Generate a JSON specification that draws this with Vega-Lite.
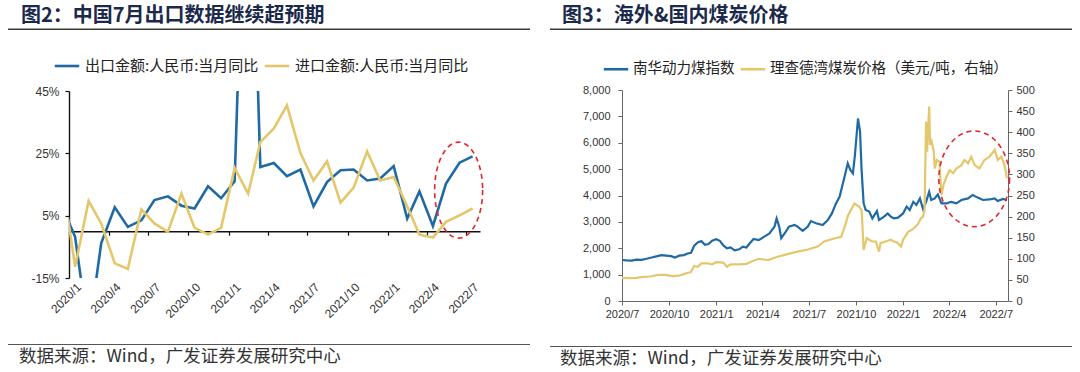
{
  "$schema": "https://vega.github.io/schema/vega-lite/v6.json",
  "background": "white",
  "padding": {"left": 8, "top": 0, "right": 0, "bottom": 0},
  "config": {
    "view": {"stroke": null},
    "font": "Liberation Sans",
    "axis": {"labelFont": "Liberation Sans", "grid": false, "title": null}
  },
  "spacing": 20,
  "resolve": {"scale": {"color": "independent"}, "legend": {"color": "independent"}},
  "hconcat": [
    {
      "spacing": 24,
      "resolve": {"scale": {"color": "independent"}, "legend": {"color": "independent"}},
      "vconcat": [
        {
          "spacing": 22,
          "resolve": {"scale": {"color": "independent"}, "legend": {"color": "independent"}},
          "vconcat": [
            {
              "width": 461, "height": 30,
              "data": {"values": [{"t": "图2：中国7月出口数据继续超预期"}]},
              "layer": [
                {
                  "mark": {"type": "rect", "color": "#3a3a3a", "clip": false},
                  "encoding": {
                    "x": {"datum": 0, "type": "quantitative", "scale": {"domain": [0, 1], "range": [-61, 461], "nice": false, "zero": false}, "axis": null},
                    "x2": {"datum": 1},
                    "y": {"datum": 0, "type": "quantitative", "scale": {"domain": [0, 1], "nice": false, "zero": false}, "axis": null},
                    "y2": {"datum": 0.05}
                  }
                },
                {
                  "mark": {"type": "text", "align": "left", "baseline": "middle", "dx": 13, "dy": 1, "fontSize": 20, "fontWeight": "bold", "font": "Noto Sans CJK SC", "color": "#1b2a4a"},
                  "encoding": {
                    "text": {"field": "t"},
                    "x": {"datum": 0, "type": "quantitative"},
                    "y": {"datum": 0.5, "type": "quantitative"}
                  }
                }
              ]
            },
            {
              "width": 411, "height": 187,
              "layer": [
                {
                  "data": {"values": [
                    {"d": "2019-12-15", "s": "出口金额:人民币:当月同比", "v": 8.4},
                    {"d": "2020-01-15", "s": "出口金额:人民币:当月同比", "v": -1.8},
                    {"d": "2020-02-15", "s": "出口金额:人民币:当月同比", "v": -33},
                    {"d": "2020-03-15", "s": "出口金额:人民币:当月同比", "v": -3.8},
                    {"d": "2020-04-15", "s": "出口金额:人民币:当月同比", "v": 7.7},
                    {"d": "2020-05-15", "s": "出口金额:人民币:当月同比", "v": 1.4},
                    {"d": "2020-06-15", "s": "出口金额:人民币:当月同比", "v": 3.5},
                    {"d": "2020-07-15", "s": "出口金额:人民币:当月同比", "v": 10.0},
                    {"d": "2020-08-15", "s": "出口金额:人民币:当月同比", "v": 11.2},
                    {"d": "2020-09-15", "s": "出口金额:人民币:当月同比", "v": 8.2},
                    {"d": "2020-10-15", "s": "出口金额:人民币:当月同比", "v": 7.3},
                    {"d": "2020-11-15", "s": "出口金额:人民币:当月同比", "v": 14.4},
                    {"d": "2020-12-15", "s": "出口金额:人民币:当月同比", "v": 10.6},
                    {"d": "2021-01-15", "s": "出口金额:人民币:当月同比", "v": 16.0},
                    {"d": "2021-02-15", "s": "出口金额:人民币:当月同比", "v": 150},
                    {"d": "2021-03-15", "s": "出口金额:人民币:当月同比", "v": 20.6},
                    {"d": "2021-04-15", "s": "出口金额:人民币:当月同比", "v": 21.9},
                    {"d": "2021-05-15", "s": "出口金额:人民币:当月同比", "v": 17.7},
                    {"d": "2021-06-15", "s": "出口金额:人民币:当月同比", "v": 19.8},
                    {"d": "2021-07-15", "s": "出口金额:人民币:当月同比", "v": 8.0},
                    {"d": "2021-08-15", "s": "出口金额:人民币:当月同比", "v": 15.8},
                    {"d": "2021-09-15", "s": "出口金额:人民币:当月同比", "v": 19.6},
                    {"d": "2021-10-15", "s": "出口金额:人民币:当月同比", "v": 19.8},
                    {"d": "2021-11-15", "s": "出口金额:人民币:当月同比", "v": 16.3},
                    {"d": "2021-12-15", "s": "出口金额:人民币:当月同比", "v": 16.9},
                    {"d": "2022-01-15", "s": "出口金额:人民币:当月同比", "v": 20.9},
                    {"d": "2022-02-15", "s": "出口金额:人民币:当月同比", "v": 4.1},
                    {"d": "2022-03-15", "s": "出口金额:人民币:当月同比", "v": 12.8},
                    {"d": "2022-04-15", "s": "出口金额:人民币:当月同比", "v": 1.7},
                    {"d": "2022-05-15", "s": "出口金额:人民币:当月同比", "v": 15.3},
                    {"d": "2022-06-15", "s": "出口金额:人民币:当月同比", "v": 22.0},
                    {"d": "2022-07-15", "s": "出口金额:人民币:当月同比", "v": 24.0},
                    {"d": "2019-12-15", "s": "进口金额:人民币:当月同比", "v": 18.2},
                    {"d": "2020-01-15", "s": "进口金额:人民币:当月同比", "v": -11.4},
                    {"d": "2020-02-15", "s": "进口金额:人民币:当月同比", "v": 9.7},
                    {"d": "2020-03-15", "s": "进口金额:人民币:当月同比", "v": 2.5},
                    {"d": "2020-04-15", "s": "进口金额:人民币:当月同比", "v": -10.3},
                    {"d": "2020-05-15", "s": "进口金额:人民币:当月同比", "v": -12.1},
                    {"d": "2020-06-15", "s": "进口金额:人民币:当月同比", "v": 7.0},
                    {"d": "2020-07-15", "s": "进口金额:人民币:当月同比", "v": 2.5},
                    {"d": "2020-08-15", "s": "进口金额:人民币:当月同比", "v": -0.2},
                    {"d": "2020-09-15", "s": "进口金额:人民币:当月同比", "v": 12.1},
                    {"d": "2020-10-15", "s": "进口金额:人民币:当月同比", "v": 1.1},
                    {"d": "2020-11-15", "s": "进口金额:人民币:当月同比", "v": -1.0},
                    {"d": "2020-12-15", "s": "进口金额:人民币:当月同比", "v": 1.1},
                    {"d": "2021-01-15", "s": "进口金额:人民币:当月同比", "v": 20.3},
                    {"d": "2021-02-15", "s": "进口金额:人民币:当月同比", "v": 12.1},
                    {"d": "2021-03-15", "s": "进口金额:人民币:当月同比", "v": 28.6},
                    {"d": "2021-04-15", "s": "进口金额:人民币:当月同比", "v": 33.0},
                    {"d": "2021-05-15", "s": "进口金额:人民币:当月同比", "v": 40.4},
                    {"d": "2021-06-15", "s": "进口金额:人民币:当月同比", "v": 25.1},
                    {"d": "2021-07-15", "s": "进口金额:人民币:当月同比", "v": 16.3},
                    {"d": "2021-08-15", "s": "进口金额:人民币:当月同比", "v": 22.4},
                    {"d": "2021-09-15", "s": "进口金额:人民币:当月同比", "v": 9.2},
                    {"d": "2021-10-15", "s": "进口金额:人民币:当月同比", "v": 14.0},
                    {"d": "2021-11-15", "s": "进口金额:人民币:当月同比", "v": 25.6},
                    {"d": "2021-12-15", "s": "进口金额:人民币:当月同比", "v": 16.3},
                    {"d": "2022-01-15", "s": "进口金额:人民币:当月同比", "v": 17.4},
                    {"d": "2022-02-15", "s": "进口金额:人民币:当月同比", "v": 8.0},
                    {"d": "2022-03-15", "s": "进口金额:人民币:当月同比", "v": -1.1},
                    {"d": "2022-04-15", "s": "进口金额:人民币:当月同比", "v": -2.0},
                    {"d": "2022-05-15", "s": "进口金额:人民币:当月同比", "v": 3.0},
                    {"d": "2022-06-15", "s": "进口金额:人民币:当月同比", "v": 5.1},
                    {"d": "2022-07-15", "s": "进口金额:人民币:当月同比", "v": 7.3}
                  ]},
                  "mark": {"type": "line", "clip": true, "strokeWidth": 2.6},
                  "encoding": {
                    "x": {
                      "field": "d", "type": "temporal",
                      "scale": {"type": "utc", "domain": [{"year": 2020, "month": 1, "date": 1, "utc": true}, {"year": 2022, "month": 8, "date": 1, "utc": true}]},
                      "axis": {
                        "orient": "bottom", "offset": -46.75,
                        "values": [
                          {"year": 2020, "month": 1, "date": 1, "utc": true}, {"year": 2020, "month": 4, "date": 1, "utc": true},
                          {"year": 2020, "month": 7, "date": 1, "utc": true}, {"year": 2020, "month": 10, "date": 1, "utc": true},
                          {"year": 2021, "month": 1, "date": 1, "utc": true}, {"year": 2021, "month": 4, "date": 1, "utc": true},
                          {"year": 2021, "month": 7, "date": 1, "utc": true}, {"year": 2021, "month": 10, "date": 1, "utc": true},
                          {"year": 2022, "month": 1, "date": 1, "utc": true}, {"year": 2022, "month": 4, "date": 1, "utc": true},
                          {"year": 2022, "month": 7, "date": 1, "utc": true}
                        ],
                        "labelExpr": "utcFormat(datum.value, '%Y/%-m')",
                        "labelAngle": -45, "labelAlign": "right", "labelBaseline": "top",
                        "labelPadding": 46, "labelOffset": 6, "labelFontSize": 12, "labelColor": "#333",
                        "labelOverlap": false, "labelFlush": false,
                        "domainColor": "#111", "domainWidth": 1.4, "tickColor": "#111", "tickSize": 4, "tickWidth": 1.2,
                        "title": null
                      }
                    },
                    "y": {
                      "field": "v", "type": "quantitative",
                      "scale": {"domain": [-15, 45], "nice": false, "zero": false},
                      "axis": {
                        "values": [-15, -5, 5, 15, 25, 35, 45],
                        "labelExpr": "datum.value + '%'",
                        "labelOverlap": false, "labelFlush": false,
                        "labelFontSize": 12, "labelColor": "#333", "labelPadding": 6,
                        "domainColor": "#111", "domainWidth": 1.4, "tickColor": "#111", "tickSize": 4, "tickWidth": 1.2,
                        "minExtent": 61, "title": null
                      }
                    },
                    "color": {
                      "field": "s", "type": "nominal",
                      "scale": {"domain": ["出口金额:人民币:当月同比", "进口金额:人民币:当月同比"], "range": ["#1f6aa5", "#e5c76b"]},
                      "legend": {
                        "orient": "none", "legendX": -16, "legendY": -39, "direction": "horizontal", "title": null,
                        "symbolType": "stroke", "symbolSize": 600, "symbolStrokeWidth": 2.6,
                        "labelFont": "Noto Sans CJK SC", "labelFontSize": 15, "labelColor": "#222",
                        "labelOffset": 4, "columnPadding": 0, "labelLimit": 400
                      }
                    }
                  }
                },
                {
                  "data": {"values": [{"d": "2022-06-13", "v": 13.2}]},
                  "mark": {"type": "point", "shape": "M 0.5 0 C 0.5 0.552 0.276 1 0 1 C -0.276 1 -0.5 0.552 -0.5 0 C -0.5 -0.552 -0.276 -1 0 -1 C 0.276 -1 0.5 -0.552 0.5 0 Z", "size": 9216, "filled": false, "color": "#e3242b", "strokeWidth": 1.6, "strokeDash": [5, 4], "opacity": 1},
                  "encoding": {
                    "x": {"field": "d", "type": "temporal", "scale": {"type": "utc"}},
                    "y": {"field": "v", "type": "quantitative"}
                  }
                }
              ]
            }
          ]
        },
        {
          "width": 461, "height": 26,
          "data": {"values": [{"t": "数据来源：Wind，广发证券发展研究中心"}]},
          "layer": [
            {
              "mark": {"type": "rect", "color": "#555", "clip": false},
              "encoding": {
                "x": {"datum": 0, "type": "quantitative", "scale": {"domain": [0, 1], "range": [-61, 461], "nice": false, "zero": false}, "axis": null},
                "x2": {"datum": 1},
                "y": {"datum": 1, "type": "quantitative", "scale": {"domain": [0, 1], "nice": false, "zero": false}, "axis": null},
                "y2": {"datum": 0.962}
              }
            },
            {
              "mark": {"type": "text", "align": "left", "baseline": "middle", "dx": 11, "fontSize": 17.5, "font": "Noto Sans CJK SC", "color": "#333"},
              "encoding": {
                "text": {"field": "t"},
                "x": {"datum": 0, "type": "quantitative"},
                "y": {"datum": 0.5, "type": "quantitative"}
              }
            }
          ]
        }
      ]
    },
    {
      "spacing": 27,
      "resolve": {"scale": {"color": "independent"}, "legend": {"color": "independent"}},
      "vconcat": [
        {
          "spacing": 25,
          "resolve": {"scale": {"color": "independent"}, "legend": {"color": "independent"}},
          "vconcat": [
            {
              "width": 450, "height": 30,
              "data": {"values": [{"t": "图3：海外&国内煤炭价格"}]},
              "layer": [
                {
                  "mark": {"type": "rect", "color": "#3a3a3a", "clip": false},
                  "encoding": {
                    "x": {"datum": 0, "type": "quantitative", "scale": {"domain": [0, 1], "range": [-72, 450], "nice": false, "zero": false}, "axis": null},
                    "x2": {"datum": 1},
                    "y": {"datum": 0, "type": "quantitative", "scale": {"domain": [0, 1], "nice": false, "zero": false}, "axis": null},
                    "y2": {"datum": 0.05}
                  }
                },
                {
                  "mark": {"type": "text", "align": "left", "baseline": "middle", "dx": 12, "dy": 1, "fontSize": 20, "fontWeight": "bold", "font": "Noto Sans CJK SC", "color": "#1b2a4a"},
                  "encoding": {
                    "text": {"field": "t"},
                    "x": {"datum": 0, "type": "quantitative"},
                    "y": {"datum": 0.5, "type": "quantitative"}
                  }
                }
              ]
            },
            {
              "width": 386, "height": 211,
              "resolve": {"scale": {"y": "independent"}},
              "layer": [
                {
                  "data": {"values": [
                    {"d": "2020-07-01", "s": "南华动力煤指数", "v": 1555},
                    {"d": "2020-07-10", "s": "南华动力煤指数", "v": 1540},
                    {"d": "2020-07-20", "s": "南华动力煤指数", "v": 1530},
                    {"d": "2020-07-29", "s": "南华动力煤指数", "v": 1570},
                    {"d": "2020-08-08", "s": "南华动力煤指数", "v": 1560},
                    {"d": "2020-08-18", "s": "南华动力煤指数", "v": 1600},
                    {"d": "2020-08-28", "s": "南华动力煤指数", "v": 1650},
                    {"d": "2020-09-08", "s": "南华动力煤指数", "v": 1700},
                    {"d": "2020-09-16", "s": "南华动力煤指数", "v": 1740},
                    {"d": "2020-09-25", "s": "南华动力煤指数", "v": 1720},
                    {"d": "2020-10-05", "s": "南华动力煤指数", "v": 1700},
                    {"d": "2020-10-12", "s": "南华动力煤指数", "v": 1650},
                    {"d": "2020-10-21", "s": "南华动力煤指数", "v": 1720},
                    {"d": "2020-10-30", "s": "南华动力煤指数", "v": 1740},
                    {"d": "2020-11-06", "s": "南华动力煤指数", "v": 1800},
                    {"d": "2020-11-13", "s": "南华动力煤指数", "v": 1830},
                    {"d": "2020-11-19", "s": "南华动力煤指数", "v": 2100},
                    {"d": "2020-11-26", "s": "南华动力煤指数", "v": 2220},
                    {"d": "2020-12-03", "s": "南华动力煤指数", "v": 2270},
                    {"d": "2020-12-10", "s": "南华动力煤指数", "v": 2130},
                    {"d": "2020-12-17", "s": "南华动力煤指数", "v": 2160},
                    {"d": "2020-12-24", "s": "南华动力煤指数", "v": 2290},
                    {"d": "2021-01-01", "s": "南华动力煤指数", "v": 2340},
                    {"d": "2021-01-08", "s": "南华动力煤指数", "v": 2280},
                    {"d": "2021-01-15", "s": "南华动力煤指数", "v": 2110},
                    {"d": "2021-01-22", "s": "南华动力煤指数", "v": 2000},
                    {"d": "2021-01-29", "s": "南华动力煤指数", "v": 2030},
                    {"d": "2021-02-06", "s": "南华动力煤指数", "v": 1920},
                    {"d": "2021-02-15", "s": "南华动力煤指数", "v": 1960},
                    {"d": "2021-02-22", "s": "南华动力煤指数", "v": 2060},
                    {"d": "2021-03-01", "s": "南华动力煤指数", "v": 2030},
                    {"d": "2021-03-06", "s": "南华动力煤指数", "v": 2150},
                    {"d": "2021-03-15", "s": "南华动力煤指数", "v": 2350},
                    {"d": "2021-03-25", "s": "南华动力煤指数", "v": 2310},
                    {"d": "2021-04-05", "s": "南华动力煤指数", "v": 2440},
                    {"d": "2021-04-15", "s": "南华动力煤指数", "v": 2560},
                    {"d": "2021-04-25", "s": "南华动力煤指数", "v": 2820},
                    {"d": "2021-04-29", "s": "南华动力煤指数", "v": 3130},
                    {"d": "2021-05-04", "s": "南华动力煤指数", "v": 2820},
                    {"d": "2021-05-08", "s": "南华动力煤指数", "v": 2380},
                    {"d": "2021-05-17", "s": "南华动力煤指数", "v": 2630},
                    {"d": "2021-05-23", "s": "南华动力煤指数", "v": 2820},
                    {"d": "2021-06-03", "s": "南华动力煤指数", "v": 2880},
                    {"d": "2021-06-09", "s": "南华动力煤指数", "v": 2820},
                    {"d": "2021-06-19", "s": "南华动力煤指数", "v": 2660},
                    {"d": "2021-06-29", "s": "南华动力煤指数", "v": 2820},
                    {"d": "2021-07-05", "s": "南华动力煤指数", "v": 3030},
                    {"d": "2021-07-15", "s": "南华动力煤指数", "v": 2950},
                    {"d": "2021-07-28", "s": "南华动力煤指数", "v": 2880},
                    {"d": "2021-08-07", "s": "南华动力煤指数", "v": 3070},
                    {"d": "2021-08-15", "s": "南华动力煤指数", "v": 3320},
                    {"d": "2021-08-23", "s": "南华动力煤指数", "v": 3700},
                    {"d": "2021-08-30", "s": "南华动力煤指数", "v": 3950},
                    {"d": "2021-09-08", "s": "南华动力煤指数", "v": 4650},
                    {"d": "2021-09-15", "s": "南华动力煤指数", "v": 5220},
                    {"d": "2021-09-20", "s": "南华动力煤指数", "v": 4970},
                    {"d": "2021-09-25", "s": "南华动力煤指数", "v": 4840},
                    {"d": "2021-09-29", "s": "南华动力煤指数", "v": 5530},
                    {"d": "2021-10-05", "s": "南华动力煤指数", "v": 6920},
                    {"d": "2021-10-09", "s": "南华动力煤指数", "v": 6420},
                    {"d": "2021-10-12", "s": "南华动力煤指数", "v": 4970},
                    {"d": "2021-10-16", "s": "南华动力煤指数", "v": 3700},
                    {"d": "2021-10-20", "s": "南华动力煤指数", "v": 3450},
                    {"d": "2021-10-27", "s": "南华动力煤指数", "v": 3390},
                    {"d": "2021-11-02", "s": "南华动力煤指数", "v": 3130},
                    {"d": "2021-11-11", "s": "南华动力煤指数", "v": 3410},
                    {"d": "2021-11-15", "s": "南华动力煤指数", "v": 3070},
                    {"d": "2021-11-25", "s": "南华动力煤指数", "v": 3200},
                    {"d": "2021-12-02", "s": "南华动力煤指数", "v": 3320},
                    {"d": "2021-12-08", "s": "南华动力煤指数", "v": 3200},
                    {"d": "2021-12-14", "s": "南华动力煤指数", "v": 3135},
                    {"d": "2021-12-22", "s": "南华动力煤指数", "v": 3160},
                    {"d": "2022-01-01", "s": "南华动力煤指数", "v": 3320},
                    {"d": "2022-01-08", "s": "南华动力煤指数", "v": 3580},
                    {"d": "2022-01-14", "s": "南华动力煤指数", "v": 3450},
                    {"d": "2022-01-21", "s": "南华动力煤指数", "v": 3760},
                    {"d": "2022-01-27", "s": "南华动力煤指数", "v": 3640},
                    {"d": "2022-02-03", "s": "南华动力煤指数", "v": 3890},
                    {"d": "2022-02-09", "s": "南华动力煤指数", "v": 3490},
                    {"d": "2022-02-15", "s": "南华动力煤指数", "v": 3760},
                    {"d": "2022-02-21", "s": "南华动力煤指数", "v": 4140},
                    {"d": "2022-02-25", "s": "南华动力煤指数", "v": 3830},
                    {"d": "2022-03-04", "s": "南华动力煤指数", "v": 3890},
                    {"d": "2022-03-10", "s": "南华动力煤指数", "v": 4040},
                    {"d": "2022-03-17", "s": "南华动力煤指数", "v": 3700},
                    {"d": "2022-03-27", "s": "南华动力煤指数", "v": 3700},
                    {"d": "2022-04-05", "s": "南华动力煤指数", "v": 3760},
                    {"d": "2022-04-15", "s": "南华动力煤指数", "v": 3700},
                    {"d": "2022-04-25", "s": "南华动力煤指数", "v": 3830},
                    {"d": "2022-05-08", "s": "南华动力煤指数", "v": 3890},
                    {"d": "2022-05-17", "s": "南华动力煤指数", "v": 4020},
                    {"d": "2022-05-27", "s": "南华动力煤指数", "v": 3920},
                    {"d": "2022-06-06", "s": "南华动力煤指数", "v": 3830},
                    {"d": "2022-06-19", "s": "南华动力煤指数", "v": 3850},
                    {"d": "2022-06-29", "s": "南华动力煤指数", "v": 3890},
                    {"d": "2022-07-05", "s": "南华动力煤指数", "v": 3790},
                    {"d": "2022-07-15", "s": "南华动力煤指数", "v": 3870},
                    {"d": "2022-07-23", "s": "南华动力煤指数", "v": 3830}
                  ]},
                  "mark": {"type": "line", "clip": true, "strokeWidth": 2.2},
                  "encoding": {
                    "x": {
                      "field": "d", "type": "temporal",
                      "scale": {"type": "utc", "domain": [{"year": 2020, "month": 7, "date": 1, "utc": true}, {"year": 2022, "month": 7, "date": 25, "utc": true}]},
                      "axis": {
                        "values": [
                          {"year": 2020, "month": 7, "date": 1, "utc": true}, {"year": 2020, "month": 10, "date": 1, "utc": true},
                          {"year": 2021, "month": 1, "date": 1, "utc": true}, {"year": 2021, "month": 4, "date": 1, "utc": true},
                          {"year": 2021, "month": 7, "date": 1, "utc": true}, {"year": 2021, "month": 10, "date": 1, "utc": true},
                          {"year": 2022, "month": 1, "date": 1, "utc": true}, {"year": 2022, "month": 4, "date": 1, "utc": true},
                          {"year": 2022, "month": 7, "date": 1, "utc": true}
                        ],
                        "labelExpr": "utcFormat(datum.value, '%Y/%-m')",
                        "labelAngle": 0, "labelAlign": "center", "labelFlush": false, "labelOverlap": false,
                        "labelFontSize": 11, "labelColor": "#333", "labelPadding": 3,
                        "domainColor": "#666", "tickColor": "#666", "tickSize": 4, "title": null
                      }
                    },
                    "y": {
                      "field": "v", "type": "quantitative",
                      "scale": {"domain": [0, 8000], "nice": false},
                      "axis": {
                        "orient": "left", "values": [0, 1000, 2000, 3000, 4000, 5000, 6000, 7000, 8000],
                        "labelExpr": "format(datum.value, ',')",
                        "labelOverlap": false, "labelFlush": false,
                        "labelFontSize": 11, "labelColor": "#333", "labelPadding": 8,
                        "domainColor": "#666", "tickColor": "#666", "tickSize": 4, "minExtent": 72, "title": null
                      }
                    },
                    "color": {
                      "field": "s", "type": "nominal",
                      "scale": {"domain": ["南华动力煤指数", "理查德湾煤炭价格（美元/吨，右轴）"], "range": ["#1f6aa5", "#e5c76b"]},
                      "legend": {
                        "orient": "none", "legendX": -20, "legendY": -35, "direction": "horizontal", "title": null,
                        "symbolType": "stroke", "symbolSize": 600, "symbolStrokeWidth": 2.6,
                        "labelFont": "Noto Sans CJK SC", "labelFontSize": 14.5, "labelColor": "#222",
                        "labelOffset": 3, "columnPadding": 0, "labelLimit": 400
                      }
                    }
                  }
                },
                {
                  "data": {"values": [
                    {"d": "2020-07-01", "s": "理查德湾煤炭价格（美元/吨，右轴）", "v": 55},
                    {"d": "2020-07-15", "s": "理查德湾煤炭价格（美元/吨，右轴）", "v": 54},
                    {"d": "2020-07-29", "s": "理查德湾煤炭价格（美元/吨，右轴）", "v": 55},
                    {"d": "2020-08-12", "s": "理查德湾煤炭价格（美元/吨，右轴）", "v": 57},
                    {"d": "2020-08-26", "s": "理查德湾煤炭价格（美元/吨，右轴）", "v": 58},
                    {"d": "2020-09-09", "s": "理查德湾煤炭价格（美元/吨，右轴）", "v": 62},
                    {"d": "2020-09-23", "s": "理查德湾煤炭价格（美元/吨，右轴）", "v": 62},
                    {"d": "2020-10-07", "s": "理查德湾煤炭价格（美元/吨，右轴）", "v": 59},
                    {"d": "2020-10-21", "s": "理查德湾煤炭价格（美元/吨，右轴）", "v": 60},
                    {"d": "2020-11-04", "s": "理查德湾煤炭价格（美元/吨，右轴）", "v": 66},
                    {"d": "2020-11-12", "s": "理查德湾煤炭价格（美元/吨，右轴）", "v": 68},
                    {"d": "2020-11-19", "s": "理查德湾煤炭价格（美元/吨，右轴）", "v": 83},
                    {"d": "2020-11-26", "s": "理查德湾煤炭价格（美元/吨，右轴）", "v": 81},
                    {"d": "2020-12-03", "s": "理查德湾煤炭价格（美元/吨，右轴）", "v": 89},
                    {"d": "2020-12-17", "s": "理查德湾煤炭价格（美元/吨，右轴）", "v": 89},
                    {"d": "2020-12-24", "s": "理查德湾煤炭价格（美元/吨，右轴）", "v": 87},
                    {"d": "2021-01-01", "s": "理查德湾煤炭价格（美元/吨，右轴）", "v": 92},
                    {"d": "2021-01-15", "s": "理查德湾煤炭价格（美元/吨，右轴）", "v": 91},
                    {"d": "2021-01-22", "s": "理查德湾煤炭价格（美元/吨，右轴）", "v": 81},
                    {"d": "2021-01-29", "s": "理查德湾煤炭价格（美元/吨，右轴）", "v": 87},
                    {"d": "2021-02-15", "s": "理查德湾煤炭价格（美元/吨，右轴）", "v": 87},
                    {"d": "2021-03-01", "s": "理查德湾煤炭价格（美元/吨，右轴）", "v": 88},
                    {"d": "2021-03-10", "s": "理查德湾煤炭价格（美元/吨，右轴）", "v": 93},
                    {"d": "2021-03-25", "s": "理查德湾煤炭价格（美元/吨，右轴）", "v": 100},
                    {"d": "2021-04-12", "s": "理查德湾煤炭价格（美元/吨，右轴）", "v": 97},
                    {"d": "2021-05-01", "s": "理查德湾煤炭价格（美元/吨，右轴）", "v": 105},
                    {"d": "2021-05-20", "s": "理查德湾煤炭价格（美元/吨，右轴）", "v": 111},
                    {"d": "2021-06-09", "s": "理查德湾煤炭价格（美元/吨，右轴）", "v": 117},
                    {"d": "2021-06-29", "s": "理查德湾煤炭价格（美元/吨，右轴）", "v": 122},
                    {"d": "2021-07-18", "s": "理查德湾煤炭价格（美元/吨，右轴）", "v": 129},
                    {"d": "2021-07-31", "s": "理查德湾煤炭价格（美元/吨，右轴）", "v": 141},
                    {"d": "2021-08-16", "s": "理查德湾煤炭价格（美元/吨，右轴）", "v": 147},
                    {"d": "2021-09-02", "s": "理查德湾煤炭价格（美元/吨，右轴）", "v": 152},
                    {"d": "2021-09-08", "s": "理查德湾煤炭价格（美元/吨，右轴）", "v": 172},
                    {"d": "2021-09-16", "s": "理查德湾煤炭价格（美元/吨，右轴）", "v": 204},
                    {"d": "2021-09-28", "s": "理查德湾煤炭价格（美元/吨，右轴）", "v": 231},
                    {"d": "2021-10-07", "s": "理查德湾煤炭价格（美元/吨，右轴）", "v": 224},
                    {"d": "2021-10-12", "s": "理查德湾煤炭价格（美元/吨，右轴）", "v": 216},
                    {"d": "2021-10-13", "s": "理查德湾煤炭价格（美元/吨，右轴）", "v": 196},
                    {"d": "2021-10-16", "s": "理查德湾煤炭价格（美元/吨，右轴）", "v": 121},
                    {"d": "2021-10-22", "s": "理查德湾煤炭价格（美元/吨，右轴）", "v": 149},
                    {"d": "2021-10-27", "s": "理查德湾煤炭价格（美元/吨，右轴）", "v": 145},
                    {"d": "2021-11-02", "s": "理查德湾煤炭价格（美元/吨，右轴）", "v": 141},
                    {"d": "2021-11-09", "s": "理查德湾煤炭价格（美元/吨，右轴）", "v": 141},
                    {"d": "2021-11-15", "s": "理查德湾煤炭价格（美元/吨，右轴）", "v": 117},
                    {"d": "2021-11-18", "s": "理查德湾煤炭价格（美元/吨，右轴）", "v": 137},
                    {"d": "2021-11-28", "s": "理查德湾煤炭价格（美元/吨，右轴）", "v": 141},
                    {"d": "2021-12-08", "s": "理查德湾煤炭价格（美元/吨，右轴）", "v": 145},
                    {"d": "2021-12-14", "s": "理查德湾煤炭价格（美元/吨，右轴）", "v": 141},
                    {"d": "2021-12-20", "s": "理查德湾煤炭价格（美元/吨，右轴）", "v": 139},
                    {"d": "2021-12-28", "s": "理查德湾煤炭价格（美元/吨，右轴）", "v": 129},
                    {"d": "2022-01-01", "s": "理查德湾煤炭价格（美元/吨，右轴）", "v": 145},
                    {"d": "2022-01-11", "s": "理查德湾煤炭价格（美元/吨，右轴）", "v": 164},
                    {"d": "2022-01-21", "s": "理查德湾煤炭价格（美元/吨，右轴）", "v": 171},
                    {"d": "2022-01-30", "s": "理查德湾煤炭价格（美元/吨，右轴）", "v": 182},
                    {"d": "2022-02-05", "s": "理查德湾煤炭价格（美元/吨，右轴）", "v": 196},
                    {"d": "2022-02-09", "s": "理查德湾煤炭价格（美元/吨，右轴）", "v": 200},
                    {"d": "2022-02-12", "s": "理查德湾煤炭价格（美元/吨，右轴）", "v": 216},
                    {"d": "2022-02-15", "s": "理查德湾煤炭价格（美元/吨，右轴）", "v": 425},
                    {"d": "2022-02-17", "s": "理查德湾煤炭价格（美元/吨，右轴）", "v": 354},
                    {"d": "2022-02-21", "s": "理查德湾煤炭价格（美元/吨，右轴）", "v": 461},
                    {"d": "2022-02-23", "s": "理查德湾煤炭价格（美元/吨，右轴）", "v": 370},
                    {"d": "2022-02-26", "s": "理查德湾煤炭价格（美元/吨，右轴）", "v": 378},
                    {"d": "2022-03-02", "s": "理查德湾煤炭价格（美元/吨，右轴）", "v": 354},
                    {"d": "2022-03-04", "s": "理查德湾煤炭价格（美元/吨，右轴）", "v": 314},
                    {"d": "2022-03-08", "s": "理查德湾煤炭价格（美元/吨，右轴）", "v": 334},
                    {"d": "2022-03-13", "s": "理查德湾煤炭价格（美元/吨，右轴）", "v": 330},
                    {"d": "2022-03-17", "s": "理查德湾煤炭价格（美元/吨，右轴）", "v": 251},
                    {"d": "2022-03-21", "s": "理查德湾煤炭价格（美元/吨，右轴）", "v": 275},
                    {"d": "2022-03-27", "s": "理查德湾煤炭价格（美元/吨，右轴）", "v": 295},
                    {"d": "2022-04-02", "s": "理查德湾煤炭价格（美元/吨，右轴）", "v": 310},
                    {"d": "2022-04-09", "s": "理查德湾煤炭价格（美元/吨，右轴）", "v": 303},
                    {"d": "2022-04-15", "s": "理查德湾煤炭价格（美元/吨，右轴）", "v": 314},
                    {"d": "2022-04-25", "s": "理查德湾煤炭价格（美元/吨，右轴）", "v": 322},
                    {"d": "2022-05-01", "s": "理查德湾煤炭价格（美元/吨，右轴）", "v": 334},
                    {"d": "2022-05-08", "s": "理查德湾煤炭价格（美元/吨，右轴）", "v": 326},
                    {"d": "2022-05-14", "s": "理查德湾煤炭价格（美元/吨，右轴）", "v": 342},
                    {"d": "2022-05-21", "s": "理查德湾煤炭价格（美元/吨，右轴）", "v": 322},
                    {"d": "2022-05-30", "s": "理查德湾煤炭价格（美元/吨，右轴）", "v": 314},
                    {"d": "2022-06-09", "s": "理查德湾煤炭价格（美元/吨，右轴）", "v": 334},
                    {"d": "2022-06-19", "s": "理查德湾煤炭价格（美元/吨，右轴）", "v": 342},
                    {"d": "2022-06-29", "s": "理查德湾煤炭价格（美元/吨，右轴）", "v": 358},
                    {"d": "2022-07-05", "s": "理查德湾煤炭价格（美元/吨，右轴）", "v": 334},
                    {"d": "2022-07-12", "s": "理查德湾煤炭价格（美元/吨，右轴）", "v": 342},
                    {"d": "2022-07-18", "s": "理查德湾煤炭价格（美元/吨，右轴）", "v": 322},
                    {"d": "2022-07-23", "s": "理查德湾煤炭价格（美元/吨，右轴）", "v": 291}
                  ]},
                  "mark": {"type": "line", "clip": true, "strokeWidth": 2.2},
                  "encoding": {
                    "x": {"field": "d", "type": "temporal", "scale": {"type": "utc"}},
                    "y": {
                      "field": "v", "type": "quantitative",
                      "scale": {"domain": [0, 500], "nice": false},
                      "axis": {
                        "orient": "right", "values": [0, 50, 100, 150, 200, 250, 300, 350, 400, 450, 500],
                        "labelOverlap": false, "labelFlush": false,
                        "labelFontSize": 11, "labelColor": "#333", "labelPadding": 4,
                        "domainColor": "#666", "tickColor": "#666", "tickSize": 4, "title": null
                      }
                    },
                    "color": {
                      "field": "s", "type": "nominal",
                      "scale": {"domain": ["南华动力煤指数", "理查德湾煤炭价格（美元/吨，右轴）"], "range": ["#1f6aa5", "#e5c76b"]}
                    }
                  }
                },
                {
                  "data": {"values": [{"d": "2022-05-20", "v": 4632}]},
                  "mark": {"type": "point", "shape": "M 0.739 0 C 0.739 0.552 0.408 1 0 1 C -0.408 1 -0.739 0.552 -0.739 0 C -0.739 -0.552 -0.408 -1 0 -1 C 0.408 -1 0.739 -0.552 0.739 0 Z", "size": 9158, "filled": false, "color": "#e3242b", "strokeWidth": 1.6, "strokeDash": [5, 4], "opacity": 1},
                  "encoding": {
                    "x": {"field": "d", "type": "temporal", "scale": {"type": "utc"}},
                    "y": {"field": "v", "type": "quantitative", "scale": {"domain": [0, 8000], "nice": false}, "axis": null}
                  }
                }
              ]
            }
          ]
        },
        {
          "width": 450, "height": 26,
          "data": {"values": [{"t": "数据来源：Wind，广发证券发展研究中心"}]},
          "layer": [
            {
              "mark": {"type": "rect", "color": "#555", "clip": false},
              "encoding": {
                "x": {"datum": 0, "type": "quantitative", "scale": {"domain": [0, 1], "range": [-72, 450], "nice": false, "zero": false}, "axis": null},
                "x2": {"datum": 1},
                "y": {"datum": 1, "type": "quantitative", "scale": {"domain": [0, 1], "nice": false, "zero": false}, "axis": null},
                "y2": {"datum": 0.962}
              }
            },
            {
              "mark": {"type": "text", "align": "left", "baseline": "middle", "dx": 10, "fontSize": 17.5, "font": "Noto Sans CJK SC", "color": "#333"},
              "encoding": {
                "text": {"field": "t"},
                "x": {"datum": 0, "type": "quantitative"},
                "y": {"datum": 0.5, "type": "quantitative"}
              }
            }
          ]
        }
      ]
    }
  ]
}
